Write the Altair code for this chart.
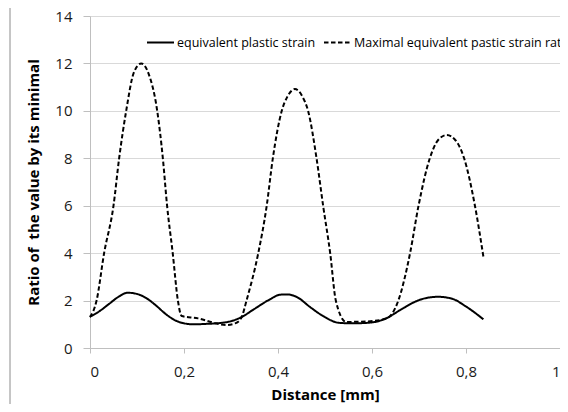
import altair as alt
import pandas as pd

# ---- data ----
series_names = ["equivalent plastic strain", "Maximal equivalent pastic strain rate"]

x_strain = [0, 0.02, 0.04, 0.06, 0.08, 0.1, 0.12, 0.14, 0.16, 0.18, 0.2, 0.22, 0.25, 0.28, 0.3,
            0.32, 0.35, 0.38, 0.405, 0.42, 0.44, 0.47, 0.5, 0.53, 0.56, 0.6, 0.63, 0.66, 0.7,
            0.74, 0.77, 0.8, 0.837]
y_strain = [1.32, 1.55, 1.85, 2.15, 2.33, 2.28, 2.1, 1.8, 1.45, 1.18, 1.04, 1.0, 1.02, 1.06, 1.13,
            1.28, 1.65, 2.02, 2.25, 2.26, 2.15, 1.7, 1.3, 1.06, 1.04, 1.08, 1.25, 1.6, 2.02,
            2.16, 2.08, 1.75, 1.21]

x_rate = [0, 0.014, 0.03, 0.05, 0.062, 0.077, 0.093, 0.109, 0.125, 0.143, 0.155, 0.164, 0.176,
          0.187, 0.195, 0.23, 0.262, 0.29, 0.31, 0.323, 0.333, 0.358, 0.376, 0.389, 0.408, 0.42,
          0.436, 0.452, 0.464, 0.482, 0.496, 0.511, 0.523, 0.545, 0.59, 0.631, 0.656, 0.681,
          0.699, 0.723, 0.74, 0.759, 0.778, 0.796, 0.819, 0.837]
y_rate = [1.3, 2.0, 4.0, 6.0, 8.0, 10.0, 11.6, 12.0, 11.55, 10.0, 8.0, 6.0, 4.0,
          2.0, 1.35, 1.25, 1.07, 0.97, 1.05, 1.32, 2.0, 4.0, 6.0, 8.0, 10.0, 10.6,
          10.92, 10.6, 10.0, 8.0, 6.0, 4.0, 2.0, 1.1, 1.12, 1.25, 2.0, 4.0,
          6.0, 8.0, 8.75, 8.98, 8.75, 8.0, 6.0, 3.85]

x_ticks = [0, 0.2, 0.4, 0.6, 0.8, 1]
y_ticks = [0, 2, 4, 6, 8, 10, 12, 14]

df = pd.concat([
    pd.DataFrame({"x": x_strain, "y": y_strain, "series": series_names[0]}),
    pd.DataFrame({"x": x_rate, "y": y_rate, "series": series_names[1]}),
])

FONT = "Open Sans"
GRID = "#d9d9d9"
AXIS = "#bfbfbf"

lines = alt.Chart(df).mark_line(interpolate="monotone", strokeWidth=2, color="black").encode(
    x=alt.X("x:Q", scale=alt.Scale(domain=[0, 1], nice=False),
            axis=alt.Axis(values=x_ticks, grid=False,
                          labelExpr="datum.value == 0 || datum.value == 1 ? format(datum.value, 'd') : replace(format(datum.value, '.1f'), '.', ',')",
                          title="Distance [mm]", titleX=235, titleY=51,
                          titleAlign="center", titleBaseline="alphabetic",
                          tickSize=5, labelPadding=11)),
    y=alt.Y("y:Q", scale=alt.Scale(domain=[0, 14], nice=False),
            axis=alt.Axis(values=y_ticks, grid=True,
                          title="Ratio of\u00a0 the value by its minimal",
                          titleAngle=270, titleX=-52, titleY=166,
                          titleAlign="center", titleBaseline="alphabetic",
                          tickSize=7, labelPadding=11)),
    strokeDash=alt.StrokeDash("series:N",
                              scale=alt.Scale(domain=series_names, range=[[1, 0], [4.5, 2.5]]),
                              legend=alt.Legend(orient="none", legendX=56, legendY=12,
                                                direction="horizontal", title=None,
                                                symbolType="stroke", symbolSize=729,
                                                symbolStrokeWidth=2, symbolStrokeColor="black",
                                                labelFont=FONT, labelFontSize=12.5,
                                                labelColor="#000000", labelOffset=2,
                                                columnPadding=4, padding=0, labelLimit=0)),
    order=alt.Order("x:Q"),
)

frame = alt.Chart(pd.DataFrame({"a": [0]})).mark_rule(color="#8c8c8c", strokeWidth=1).encode(
    x=alt.value(-80), y=alt.value(-8), y2=alt.value(389)
)

chart = alt.layer(frame, lines).properties(
    width=470, height=332,
    autosize=alt.AutoSizeParams(type="none"),
    padding={"left": 82, "top": 8, "right": 0, "bottom": 56},
).configure_view(stroke=None).configure_axis(
    labelFont=FONT, labelFontSize=15, labelColor="#1a1a1a",
    titleFont=FONT, titleFontSize=15, titleFontWeight="bold", titleColor="#000000",
    domainColor=AXIS, tickColor=AXIS, gridColor=GRID, gridWidth=1,
)

chart.save("out.html", embed_options={"renderer": "svg", "actions": False})
